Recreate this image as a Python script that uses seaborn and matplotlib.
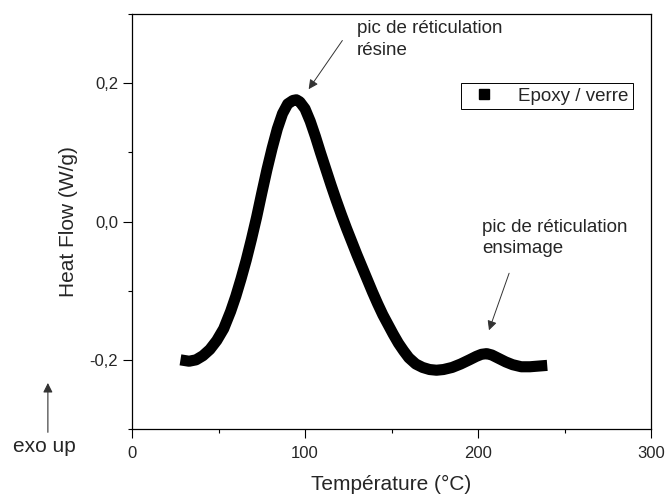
import matplotlib
matplotlib.use('Agg')
import matplotlib.pyplot as plt
import seaborn as sns
import pandas as pd
from matplotlib.lines import Line2D
from matplotlib.ticker import MultipleLocator, FuncFormatter

# courbe DSC
temperature = [28, 33, 37, 41, 45, 49, 53, 57, 60, 63, 66, 69, 72, 75, 78, 81,
               84, 87, 90, 93, 95, 97, 100, 103, 106, 109, 112, 115, 118, 121,
               124, 127, 130, 133, 136, 139, 142, 145, 148, 151, 154, 157, 160,
               164, 168, 172, 176, 180, 185, 190, 195, 199, 202, 205, 208, 212,
               216, 220, 225, 230, 235, 240]
heat_flow = [-0.200, -0.202, -0.200, -0.194, -0.185, -0.172, -0.155, -0.130,
             -0.108, -0.083, -0.056, -0.026, 0.006, 0.041, 0.075, 0.106, 0.134,
             0.156, 0.170, 0.175, 0.176, 0.173, 0.163, 0.145, 0.123, 0.099,
             0.076, 0.053, 0.031, 0.010, -0.010, -0.029, -0.048, -0.066, -0.084,
             -0.102, -0.119, -0.135, -0.149, -0.163, -0.176, -0.187, -0.197,
             -0.206, -0.211, -0.214, -0.215, -0.214, -0.211, -0.206, -0.200,
             -0.195, -0.192, -0.191, -0.193, -0.198, -0.203, -0.207, -0.210,
             -0.210, -0.209, -0.208]
serie = 'Epoxy / verre'

df = pd.DataFrame({'T': temperature, 'HF': heat_flow})

sns.set_style('ticks')
plt.rcParams['font.family'] = ['Liberation Sans', 'DejaVu Sans']

fig = plt.figure(figsize=(6.65, 4.95), dpi=100)
ax = fig.add_axes([0.1985, 0.1333, 0.7805, 0.8384])

sns.lineplot(data=df, x='T', y='HF', ax=ax, color='black', linewidth=8,
             solid_capstyle='butt', solid_joinstyle='round', sort=False)

ax.set_xlim(0, 300)
ax.set_ylim(-0.3, 0.3)
ax.xaxis.set_major_locator(MultipleLocator(100))
ax.xaxis.set_minor_locator(MultipleLocator(50))
ax.yaxis.set_major_locator(MultipleLocator(0.2))
ax.yaxis.set_minor_locator(MultipleLocator(0.1))
ax.yaxis.set_major_formatter(FuncFormatter(lambda v, p: f'{v:.1f}'.replace('.', ',').replace('\u2212', '-')))

ax.tick_params(which='major', direction='out', length=6.5, width=0.8, labelsize=12, color='black')
ax.tick_params(axis='x', which='major', pad=6)
ax.tick_params(which='minor', direction='out', length=3, width=0.8, color='black')
for s in ax.spines.values():
    s.set_visible(True)
    s.set_color('black')
    s.set_linewidth(0.9)

ax.set_xlabel('Température (°C)', fontsize=15, labelpad=9.5)
ax.set_ylabel('Heat Flow (W/g)', fontsize=15, labelpad=8)

# légende
h = Line2D([], [], color='black', marker='s', linestyle='none', markersize=7)
leg = ax.legend([h], [serie], loc='upper right', bbox_to_anchor=(0.965, 0.834),
                borderaxespad=0, fancybox=False, framealpha=1, edgecolor='black',
                fontsize=13.5, handletextpad=0.8, borderpad=0.25)
leg.get_frame().set_linewidth(0.7)

# annotations
arrow = dict(arrowstyle='-|>', color='#333333', lw=0.7, mutation_scale=14)
ax.text(130, 0.291, 'pic de réticulation\nrésine', fontsize=13.5, va='top', ha='left',
        linespacing=1.35)
ax.annotate('', xy=(101.2, 0.188), xytext=(122.5, 0.265), arrowprops=arrow)
ax.text(202.3, 0.004, 'pic de réticulation\nensimage', fontsize=13.5, va='top', ha='left',
        linespacing=1.35)
ax.annotate('', xy=(205.8, -0.161), xytext=(218.5, -0.071), arrowprops=arrow)

# exo up
fig.text(0.067, 0.097, 'exo up', fontsize=15, ha='center', va='center')
fig.add_artist(matplotlib.patches.FancyArrowPatch((0.072, 0.121), (0.072, 0.232),
               transform=fig.transFigure, arrowstyle='-|>', color='#333333',
               lw=0.8, mutation_scale=14))

fig.savefig('out.png', dpi=100)
